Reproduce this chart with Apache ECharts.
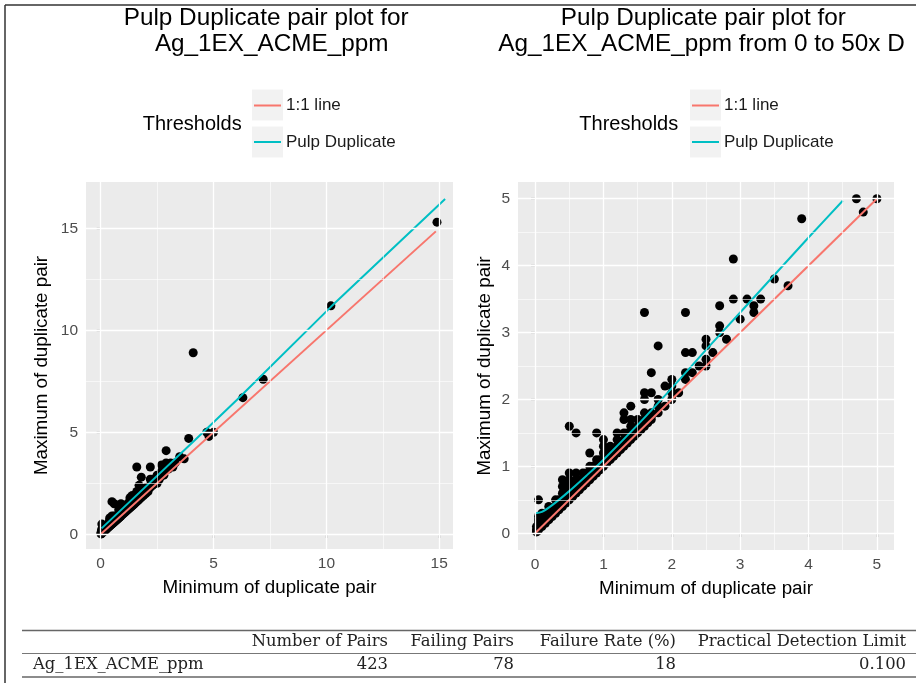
<!DOCTYPE html>
<html><head><meta charset="utf-8">
<script src="https://cdn.jsdelivr.net/npm/echarts@6/dist/echarts.min.js"></script>
<style>html,body{margin:0;padding:0;background:#fff}#c{width:916px;height:683px}</style>
</head><body><div id="c"></div>
<script>
// ---- data: [minimum of pair, maximum of pair] ----
const pairs = [
[0.02,0.02],[0.02,0.05],[0.02,0.1],[0.03,0.03],[0.05,0.05],[0.05,0.1],[0.05,0.15],[0.05,0.2],[0.05,0.25],[0.05,0.5],
[0.1,0.1],[0.1,0.15],[0.1,0.2],[0.1,0.25],[0.1,0.3],
[0.15,0.15],[0.15,0.2],[0.15,0.3],
[0.2,0.2],[0.2,0.25],[0.2,0.3],[0.2,0.4],
[0.25,0.25],[0.25,0.3],[0.25,0.35],
[0.3,0.3],[0.3,0.35],[0.3,0.4],[0.3,0.5],
[0.35,0.35],[0.35,0.4],[0.35,0.5],
[0.4,0.4],[0.4,0.45],[0.4,0.5],[0.4,0.6],[0.4,0.7],[0.4,0.8],
[0.45,0.45],[0.45,0.5],[0.45,0.6],[0.45,0.7],
[0.5,0.5],[0.5,0.55],[0.5,0.6],[0.5,0.7],[0.5,0.8],[0.5,0.9],[0.5,1.6],
[0.55,0.55],[0.55,0.6],[0.55,0.7],
[0.6,0.6],[0.6,0.65],[0.6,0.7],[0.6,0.8],[0.6,0.9],[0.6,1.5],
[0.65,0.65],[0.65,0.7],[0.65,0.8],
[0.7,0.7],[0.7,0.75],[0.7,0.8],[0.7,0.9],
[0.75,0.75],[0.75,0.8],[0.75,0.9],
[0.8,0.8],[0.8,0.85],[0.8,0.9],[0.8,1.0],[0.8,1.2],
[0.85,0.85],[0.85,0.9],[0.85,1.0],
[0.9,0.9],[0.9,0.95],[0.9,1.0],[0.9,1.1],[0.9,1.5],
[0.95,0.95],[0.95,1.0],[0.95,1.1],
[1.0,1.0],[1.0,1.05],[1.0,1.1],[1.0,1.2],[1.0,1.3],[1.0,1.4],
[1.05,1.05],[1.05,1.1],[1.05,1.2],
[1.1,1.1],[1.1,1.15],[1.1,1.2],[1.1,1.3],
[1.15,1.15],[1.15,1.2],
[1.2,1.2],[1.2,1.25],[1.2,1.3],[1.2,1.4],[1.2,1.5],
[1.25,1.25],[1.25,1.3],
[1.3,1.3],[1.3,1.35],[1.3,1.4],[1.3,1.5],[1.3,1.7],[1.3,1.8],
[1.35,1.35],[1.35,1.4],[1.35,1.5],
[1.4,1.4],[1.4,1.45],[1.4,1.5],[1.4,1.6],[1.4,1.7],[1.4,1.9],
[1.45,1.45],[1.45,1.5],
[1.5,1.5],[1.5,1.55],[1.5,1.6],[1.5,1.7],
[1.55,1.55],[1.55,1.6],
[1.6,1.6],[1.6,1.65],[1.6,1.7],[1.6,1.8],[1.6,2.0],[1.6,2.1],[1.6,3.3],
[1.65,1.65],[1.65,1.7],
[1.7,1.7],[1.7,1.75],[1.7,1.8],[1.7,2.1],[1.7,2.4],
[1.8,1.8],[1.8,1.9],[1.8,2.0],[1.8,2.8],
[1.9,1.9],[1.9,2.2],
[2.0,2.0],[2.0,2.1],[2.0,2.2],[2.0,2.3],
[2.1,2.1],
[2.2,2.3],[2.2,2.4],[2.2,2.7],[2.2,3.3],
[2.3,2.4],[2.3,2.7],
[2.4,2.5],
[2.5,2.5],[2.5,2.6],[2.5,2.8],[2.5,2.9],
[2.6,2.7],
[2.7,3.0],[2.7,3.1],[2.7,3.4],
[2.8,2.9],
[2.9,3.5],[2.9,4.1],
[3.0,3.2],
[3.1,3.5],
[3.2,3.3],[3.2,3.4],
[3.3,3.5],
[3.5,3.8],
[3.7,3.7],
[3.9,4.7],
[4.1,8.9],
[4.7,5.0],[4.8,4.8],[5.0,5.0],
[6.3,6.7],[7.2,7.6],[10.2,11.2],[14.9,15.3]
];
const zoomLimit = 5.0;                 // 0 to 50x detection limit
const leftOneToOne = [[0,0],[14.85,14.85]];
const leftPulpDup = [[0.04,0.29],[4.18,4.62],[6.03,6.58],[10.2,11.15],[15.26,16.44]];
const rightOneToOne = [[0,0],[5,5]];
const rightPulpDup = [[0,0.30],[0.1,0.32],[0.25,0.42],[0.5,0.63],[0.75,0.86],[1,1.1],[1.5,1.62],[2,2.17],[2.5,2.74],[3,3.3],[3.5,3.86],[4,4.42],[4.5,4.97]];
const leftMajor = [0,5,10,15];
const leftMinor = [2.5,7.5,12.5];
const rightMajor = [0,1,2,3,4,5];
const rightMinor = [0.5,1.5,2.5,3.5,4.5];
const titleLeft = ['Pulp Duplicate pair plot for','Ag_1EX_ACME_ppm'];
const titleRight = ['Pulp Duplicate pair plot for','Ag_1EX_ACME_ppm from 0 to 50x D'];
const legendNames = ['1:1 line','Pulp Duplicate'];
const tableColumns = ['Number of Pairs','Failing Pairs','Failure Rate (%)','Practical Detection Limit'];
const tableRowLabel = 'Ag_1EX_ACME_ppm';
const tableRowValues = ['423','78','18','0.100'];

// ---- styles ----
const FONT = 'Liberation Sans';
const RED = '#F8766D', CYAN = '#00BFC4';
const chart = echarts.init(document.getElementById('c'), null, {renderer:'canvas'});

function gridLines(major, minor){
  const d = [];
  minor.forEach(v=>{ d.push({xAxis:v, lineStyle:{width:0.6}}); });
  minor.forEach(v=>{ d.push({yAxis:v, lineStyle:{width:0.6}}); });
  major.forEach(v=>{ d.push({xAxis:v, lineStyle:{width:1.3}}); });
  major.forEach(v=>{ d.push({yAxis:v, lineStyle:{width:1.3}}); });
  return d;
}
function gridSeries(idx, major, minor){
  return {type:'scatter', xAxisIndex:idx, yAxisIndex:idx, data:[], z:1, silent:true,
    markLine:{silent:true, symbol:['none','none'], animation:false, label:{show:false},
      lineStyle:{color:'#ffffff', type:'solid'}, emphasis:{disabled:true},
      data: gridLines(major, minor)}};
}
function xAx(idx, min, max, ticks){
  return {type:'value', gridIndex:idx, min:min, max:max,
    name:'Minimum of duplicate pair', nameLocation:'middle', nameGap:29,
    nameTextStyle:{fontSize:18.8, color:'#000', fontFamily:FONT},
    axisLine:{show:false}, splitLine:{show:false},
    axisTick:{show:true, length:4, lineStyle:{color:'#333', width:1.2}, customValues:ticks},
    axisLabel:{customValues:ticks, color:'#4D4D4D', fontSize:15.5, fontFamily:FONT, margin:7}};
}
function yAx(idx, min, max, ticks, gap){
  return {type:'value', gridIndex:idx, min:min, max:max,
    name:'Maximum of duplicate pair', nameLocation:'middle', nameGap:gap,
    nameTextStyle:{fontSize:18.8, color:'#000', fontFamily:FONT},
    axisLine:{show:false}, splitLine:{show:false},
    axisTick:{show:true, length:4, lineStyle:{color:'#333', width:1.2}, customValues:ticks},
    axisLabel:{customValues:ticks, color:'#4D4D4D', fontSize:15.5, fontFamily:FONT, margin:8}};
}
function lineSeries(idx, name, color, data, smooth){
  return {type:'line', name:name, xAxisIndex:idx, yAxisIndex:idx, data:data, z:3,
    showSymbol:false, symbol:'none', smooth:smooth, silent:true,
    lineStyle:{color:color, width:2}, itemStyle:{color:color}};
}
function legendAt(left){
  return {data:legendNames, orient:'vertical', left:left, top:95.5, padding:0,
    itemWidth:27, itemHeight:2, itemGap:16.5, icon:'rect', selectedMode:false, z:10,
    textStyle:{fontSize:17, color:'#1a1a1a', fontFamily:FONT, lineHeight:20}};
}
function txt(x, y, text, size, align, family, color){
  return {type:'text', x:x, y:y, silent:true, z:10,
    style:{text:text, font: size+'px "'+(family||FONT)+'"', fill:color||'#000',
      textAlign:align, textVerticalAlign:'middle'}};
}

const rightPairs = pairs.filter(p => p[1] <= zoomLimit && p[0] <= zoomLimit);

const graphics = [
  // frame
  {type:'line', shape:{x1:5, y1:5, x2:916, y2:5}, style:{stroke:'#333', lineWidth:1.5}, silent:true},
  {type:'line', shape:{x1:5, y1:5, x2:5, y2:683}, style:{stroke:'#333', lineWidth:1.5}, silent:true},
  // titles
  txt(266.2, 18.5, titleLeft[0], 24.3, 'center'),
  txt(271.7, 44, titleLeft[1], 24.3, 'center'),
  txt(703.3, 18.5, titleRight[0], 24.3, 'center'),
  txt(498.3, 44, titleRight[1], 24.3, 'left'),
  // legend titles and key backgrounds
  txt(142.7, 124, 'Thresholds', 20, 'left'),
  txt(579.3, 124, 'Thresholds', 20, 'left'),
  {type:'rect', shape:{x:252, y:89.5, width:31, height:31}, style:{fill:'#F2F2F2'}, z:0, silent:true},
  {type:'rect', shape:{x:252, y:126.5, width:31, height:31}, style:{fill:'#F2F2F2'}, z:0, silent:true},
  {type:'rect', shape:{x:690, y:89.5, width:31, height:31}, style:{fill:'#F2F2F2'}, z:0, silent:true},
  {type:'rect', shape:{x:690, y:126.5, width:31, height:31}, style:{fill:'#F2F2F2'}, z:0, silent:true},
  // table rules
  {type:'line', shape:{x1:22, y1:630.5, x2:916, y2:630.5}, style:{stroke:'#666', lineWidth:1.6}, silent:true},
  {type:'line', shape:{x1:22, y1:653.5, x2:916, y2:653.5}, style:{stroke:'#777', lineWidth:1}, silent:true},
  {type:'line', shape:{x1:22, y1:677, x2:916, y2:677}, style:{stroke:'#666', lineWidth:1.6}, silent:true}
];
const colRight = [388, 514, 676, 906];
tableColumns.forEach((t,i)=> graphics.push(txt(colRight[i], 642, t, 16.4, 'right', 'DejaVu Serif', '#222')));
graphics.push(txt(33, 665, tableRowLabel, 16.4, 'left', 'DejaVu Serif', '#222'));
tableRowValues.forEach((t,i)=> graphics.push(txt(colRight[i], 665, t, 16.4, 'right', 'DejaVu Serif', '#222')));

chart.setOption({
  animation:false,
  backgroundColor:'#ffffff',
  grid:[
    {left:86, top:182, width:367, height:367, show:true, backgroundColor:'#EBEBEB', borderWidth:0},
    {left:518, top:182, width:376, height:368, show:true, backgroundColor:'#EBEBEB', borderWidth:0}
  ],
  xAxis:[ xAx(0, -0.65, 15.61, leftMajor), xAx(1, -0.25, 5.25, rightMajor) ],
  yAxis:[ yAx(0, -0.72, 17.27, leftMajor, 35), yAx(1, -0.25, 5.25, rightMajor, 24) ],
  legend:[ legendAt(254), legendAt(692) ],
  series:[
    gridSeries(0, leftMajor, leftMinor),
    gridSeries(1, rightMajor, rightMinor),
    {type:'scatter', xAxisIndex:0, yAxisIndex:0, data:pairs, symbolSize:9, z:2, silent:true, itemStyle:{color:'#000', opacity:1}},
    {type:'scatter', xAxisIndex:1, yAxisIndex:1, data:rightPairs, symbolSize:9, z:2, silent:true, itemStyle:{color:'#000', opacity:1}},
    lineSeries(0, legendNames[0], RED, leftOneToOne, false),
    lineSeries(0, legendNames[1], CYAN, leftPulpDup, false),
    lineSeries(1, legendNames[0], RED, rightOneToOne, false),
    lineSeries(1, legendNames[1], CYAN, rightPulpDup, 0.3)
  ],
  graphic: graphics
});
</script></body></html>
